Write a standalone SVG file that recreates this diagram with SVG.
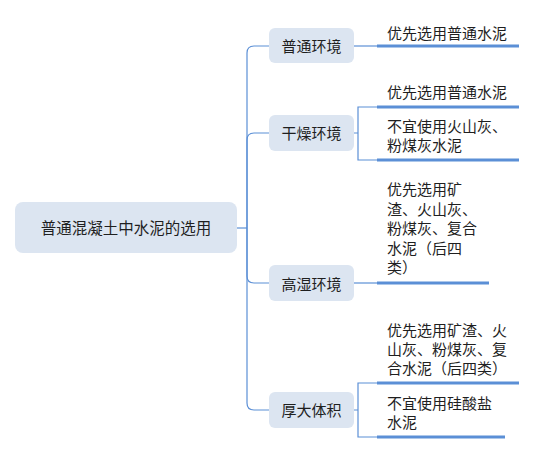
<svg xmlns="http://www.w3.org/2000/svg" width="537" height="454" viewBox="0 0 537 454">
<style>
.node{fill:#dce5f1;}
.t{font-family:"Noto Sans CJK SC","Noto Sans",sans-serif;fill:#1f1f1f;}
.c{fill:none;stroke:#5b8fd6;stroke-width:1.2;}
.u{fill:none;stroke:#5b8fd6;stroke-width:3;}
</style>
<rect width="537" height="454" fill="#ffffff"/>
<g id="connectors">
<path class="c" d="M237,228 H247"/>
<path class="c" d="M247,228 V53 Q247,46 254,46 H269"/>
<path class="c" d="M247,228 V140 Q247,133 254,133 H269"/>
<path class="c" d="M247,228 V276 Q247,283 254,283 H269"/>
<path class="c" d="M247,228 V403 Q247,410 254,410 H269"/>
<path class="c" d="M354,46 H377"/>
<path class="c" d="M354,133 H358 M377,107 H358 V160 H377"/>
<path class="c" d="M354,283 H377"/>
<path class="c" d="M354,410 H358 M377,383 H358 V437 H377"/>
</g>
<g id="root">
<rect class="node" x="15" y="202" width="222" height="51" rx="8"/>
<text class="t" x="126" y="233.5" font-size="15.5" text-anchor="middle">普通混凝土中水泥的选用</text>
</g>
<g id="n1">
<rect class="node" x="269" y="28" width="85" height="35" rx="6"/>
<text class="t" x="311.5" y="52" font-size="15" text-anchor="middle">普通环境</text>
</g>
<g id="n2">
<rect class="node" x="269" y="115" width="85" height="36" rx="6"/>
<text class="t" x="311.5" y="138.5" font-size="15" text-anchor="middle">干燥环境</text>
</g>
<g id="n3">
<rect class="node" x="269" y="265" width="85" height="36" rx="6"/>
<text class="t" x="311.5" y="289.5" font-size="15" text-anchor="middle">高湿环境</text>
</g>
<g id="n4">
<rect class="node" x="269" y="392" width="85" height="36" rx="6"/>
<text class="t" x="311.5" y="415.5" font-size="15" text-anchor="middle">厚大体积</text>
</g>
<g id="l1">
<text class="t" x="387" y="38.5" font-size="15">优先选用普通水泥</text>
<path class="u" d="M377,46 H519"/>
</g>
<g id="l2">
<text class="t" x="387" y="97.5" font-size="15">优先选用普通水泥</text>
<path class="u" d="M377,107 H519"/>
</g>
<g id="l3">
<text class="t" x="387" y="131.5" font-size="15">不宜使用火山灰、</text>
<text class="t" x="387" y="151" font-size="15">粉煤灰水泥</text>
<path class="u" d="M377,160 H519"/>
</g>
<g id="l4">
<text class="t" x="387" y="195" font-size="15">优先选用矿</text>
<text class="t" x="387" y="214.5" font-size="15">渣、火山灰、</text>
<text class="t" x="387" y="234" font-size="15">粉煤灰、复合</text>
<text class="t" x="387" y="253.5" font-size="15">水泥（后四</text>
<text class="t" x="387" y="273" font-size="15">类）</text>
<path class="u" d="M377,283 H489"/>
</g>
<g id="l5">
<text class="t" x="387" y="335.5" font-size="15">优先选用矿渣、火</text>
<text class="t" x="387" y="354.5" font-size="15">山灰、粉煤灰、复</text>
<text class="t" x="387" y="374" font-size="15">合水泥（后四类）</text>
<path class="u" d="M377,383 H519"/>
</g>
<g id="l6">
<text class="t" x="387" y="408.5" font-size="15">不宜使用硅酸盐</text>
<text class="t" x="387" y="428" font-size="15">水泥</text>
<path class="u" d="M377,437 H505"/>
</g>
</svg>
